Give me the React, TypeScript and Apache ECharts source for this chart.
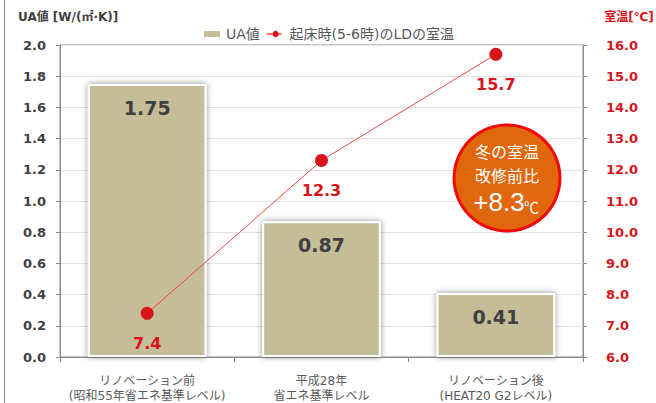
import React, { useEffect, useRef } from "react";
import * as echarts from "echarts";

const categories = [
  "リノベーション前\n(昭和55年省エネ基準レベル)",
  "平成28年\n省エネ基準レベル",
  "リノベーション後\n(HEAT20 G2レベル)",
];
const uaValues = [1.75, 0.87, 0.41];
const roomTemps = [7.4, 12.3, 15.7];
const uaSeriesName = "UA値";
const tempSeriesName = "起床時(5-6時)のLDの室温";

const FONT = "'DejaVu Sans', 'Noto Sans CJK JP', sans-serif";
const CJK = "'Noto Sans CJK JP', sans-serif";
const RED = "#D7141A";

export default function App() {
  const ref = useRef<HTMLDivElement>(null);
  useEffect(() => {
    const chart = echarts.init(ref.current!, null, { renderer: "svg" });
    chart.setOption({
      animation: false,
      backgroundColor: "#fff",
      textStyle: { fontFamily: FONT },
      legend: {
        top: 22,
        left: "center",
        itemGap: 6,
        itemWidth: 18,
        itemHeight: 8,
        textStyle: { fontSize: 14, color: "#595959", fontFamily: FONT },
        data: [
          { name: uaSeriesName, icon: "rect" },
          { name: tempSeriesName, lineStyle: { type: "dashed", width: 1.5 } },
        ],
      },
      grid: { left: 60, right: 73, top: 45, bottom: 45, show: true, borderColor: "#8c8c8c", borderWidth: 1 },
      xAxis: {
        type: "category",
        data: categories,
        axisLine: { lineStyle: { color: "#8c8c8c" } },
        axisTick: { show: true, lineStyle: { color: "#8c8c8c" } },
        axisLabel: { interval: 0, color: "#595959", fontSize: 12, lineHeight: 15, margin: 16, fontFamily: FONT },
      },
      yAxis: [
        {
          type: "value",
          min: 0,
          max: 2,
          interval: 0.2,
          axisLine: { show: true, lineStyle: { color: "#8c8c8c" } },
          axisTick: { show: true, length: 4, lineStyle: { color: "#8c8c8c" } },
          axisLabel: { color: "#404040", fontWeight: "bold", fontSize: 13, margin: 14, formatter: (v: number) => v.toFixed(1) },
          splitLine: { lineStyle: { color: "#e3e3e3" } },
        },
        {
          type: "value",
          min: 6,
          max: 16,
          interval: 1,
          axisLine: { show: true, lineStyle: { color: "#8c8c8c" } },
          axisTick: { show: true, length: 4, lineStyle: { color: "#8c8c8c" } },
          axisLabel: { color: RED, fontWeight: "bold", fontSize: 13, margin: 23, formatter: (v: number) => v.toFixed(1) },
          splitLine: { show: false },
        },
      ],
      series: [
        {
          name: uaSeriesName,
          type: "bar",
          data: uaValues,
          barWidth: "68%",
          itemStyle: {
            color: "#C5BD98",
            borderColor: "#ffffff",
            borderWidth: 2,
            shadowColor: "rgba(0,0,0,0.45)",
            shadowBlur: 6,
          },
          label: {
            show: true,
            position: "insideTop",
            distance: 14,
            color: "#404040",
            fontWeight: "bold",
            fontSize: 19,
            fontFamily: FONT,
            formatter: (p: any) => p.value.toFixed(2),
          },
        },
        {
          name: tempSeriesName,
          type: "line",
          yAxisIndex: 1,
          data: roomTemps,
          symbol: "circle",
          symbolSize: 13,
          itemStyle: { color: RED },
          lineStyle: { color: "#F04848", width: 1 },
          label: {
            show: true,
            position: "bottom",
            distance: 16,
            color: RED,
            fontWeight: "bold",
            fontSize: 16,
            fontFamily: FONT,
            formatter: (p: any) => p.value.toFixed(1),
          },
        },
      ],
      graphic: [
        { type: "line", shape: { x1: 4.5, y1: 0, x2: 4.5, y2: 403 }, style: { stroke: "#8c8c8c", lineWidth: 1 } },
        {
          type: "text",
          x: 18,
          y: 17,
          style: { text: "UA値 [W/(㎡·K)]", fill: "#404040", fontSize: 12, fontWeight: "bold", fontFamily: FONT, align: "left", verticalAlign: "middle" },
        },
        {
          type: "text",
          x: 629,
          y: 17,
          style: { text: "室温[℃]", fill: RED, fontSize: 12, fontWeight: "bold", fontFamily: FONT, align: "center", verticalAlign: "middle" },
        },
        {
          type: "group",
          z: 100,
          children: [
            {
              type: "circle",
              z: 100,
              shape: { cx: 507, cy: 178, r: 53 },
              style: { fill: "#E0670E", stroke: "#F00A0A", lineWidth: 3 },
            },
            {
              type: "text",
              z: 101,
              x: 507,
              y: 151,
              style: { text: "冬の室温", fill: "#fff", fontSize: 16, fontFamily: CJK, align: "center", verticalAlign: "middle" },
            },
            {
              type: "text",
              z: 101,
              x: 507,
              y: 175,
              style: { text: "改修前比", fill: "#fff", fontSize: 16, fontFamily: CJK, align: "center", verticalAlign: "middle" },
            },
            {
              type: "text",
              z: 101,
              x: 499,
              y: 202,
              style: {
                text: "+8.3",
                fill: "#fff",
                fontSize: 26,
                fontFamily: "'Liberation Sans', sans-serif",
                align: "center",
                verticalAlign: "middle",
              },
            },
            {
              type: "text",
              z: 101,
              x: 524,
              y: 206,
              style: { text: "℃", fill: "#fff", fontSize: 15, fontFamily: CJK, align: "left", verticalAlign: "middle" },
            },
          ],
        },
      ],
    });
    return () => chart.dispose();
  }, []);
  return <div ref={ref} style={{ position: "fixed", left: 0, top: 0, width: 656, height: 403 }} />;
}
